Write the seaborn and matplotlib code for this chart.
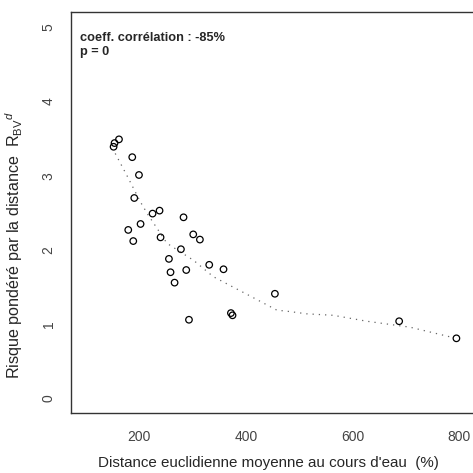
import numpy as np
import pandas as pd
import seaborn as sns
import matplotlib
matplotlib.use('Agg')
import matplotlib.pyplot as plt

# distance moyenne (%) et risque pondere
distance = [151.9, 153.7, 162.0, 186.9, 199.5, 190.7, 179.4, 188.8, 202.5,
            225.0, 238.1, 240.0, 283.1, 301.3, 313.8, 278.2, 255.7, 258.7,
            266.3, 288.2, 331.3, 358.1, 454.5, 293.3, 372.0, 375.0, 687.6, 795.0]
risque = [3.39, 3.44, 3.49, 3.25, 3.01, 2.70, 2.27, 2.12, 2.35,
          2.49, 2.53, 2.17, 2.44, 2.21, 2.14, 2.01, 1.88, 1.70,
          1.56, 1.73, 1.80, 1.74, 1.41, 1.06, 1.15, 1.12, 1.04, 0.81]
# courbe lowess (pointillés)
lowess_x = [155, 180, 202, 216, 252, 302, 339, 408, 458, 483, 514, 564, 627, 708, 783]
lowess_y = [3.30, 2.96, 2.65, 2.48, 2.09, 1.86, 1.64, 1.38, 1.19, 1.17, 1.14, 1.12, 1.04, 0.96, 0.83]

x_ticks = [200, 400, 600, 800]
y_ticks = [0, 1, 2, 3, 4, 5]

df = pd.DataFrame({'distance': distance, 'risque': risque})
df_lo = pd.DataFrame({'x': lowess_x, 'y': lowess_y})

sns.set_style('white')
plt.rcParams['font.family'] = ['Liberation Sans', 'DejaVu Sans']
plt.rcParams['mathtext.fontset'] = 'custom'
plt.rcParams['mathtext.rm'] = 'Liberation Sans'
plt.rcParams['mathtext.it'] = 'Liberation Sans:italic'

fig = plt.figure(figsize=(4.73, 4.73), dpi=100)
ax = fig.add_axes([71/473, 1-413.3/473, 403/473, (413.3-12.4)/473])

sns.lineplot(data=df_lo, x='x', y='y', sort=False, ax=ax, color='#666666',
             lw=0.9, linestyle=(0, (1, 4)))
sns.scatterplot(data=df, x='distance', y='risque', ax=ax, marker='o', s=22,
                facecolor='none', edgecolor='black', linewidth=0.9)

ax.set_xlim(72, 828)
ax.set_ylim(-0.2, 5.2)
ax.set_xticks(x_ticks)
ax.set_yticks(y_ticks)
ax.tick_params(axis='both', direction='out', length=5, width=0.8,
               color='#444444', labelcolor='#444444', labelsize=10)
ax.tick_params(axis='x', pad=7)
ax.tick_params(axis='y', pad=6)
plt.setp(ax.get_yticklabels(), rotation=90, va='center')
for s in ax.spines.values():
    s.set_color('#333333')
    s.set_linewidth(1.0)

ax.set_xlabel("Distance euclidienne moyenne au cours d'eau  (%)", fontsize=10.9)
ax.set_ylabel(r"Risque pondéré par la distance  $\mathrm{R}_{\mathrm{BV}}{}^{d}$",
              fontsize=11.6)
ax.xaxis.set_label_coords(0.489, -0.107)
ax.yaxis.set_label_coords(-0.114, 0.42)

ax.text(0.022, 0.95, "coeff. corrélation : -85%\np = 0", transform=ax.transAxes,
        fontsize=9.2, fontweight='bold', va='top', ha='left', linespacing=1.15)

fig.savefig('out.png', dpi=100)
